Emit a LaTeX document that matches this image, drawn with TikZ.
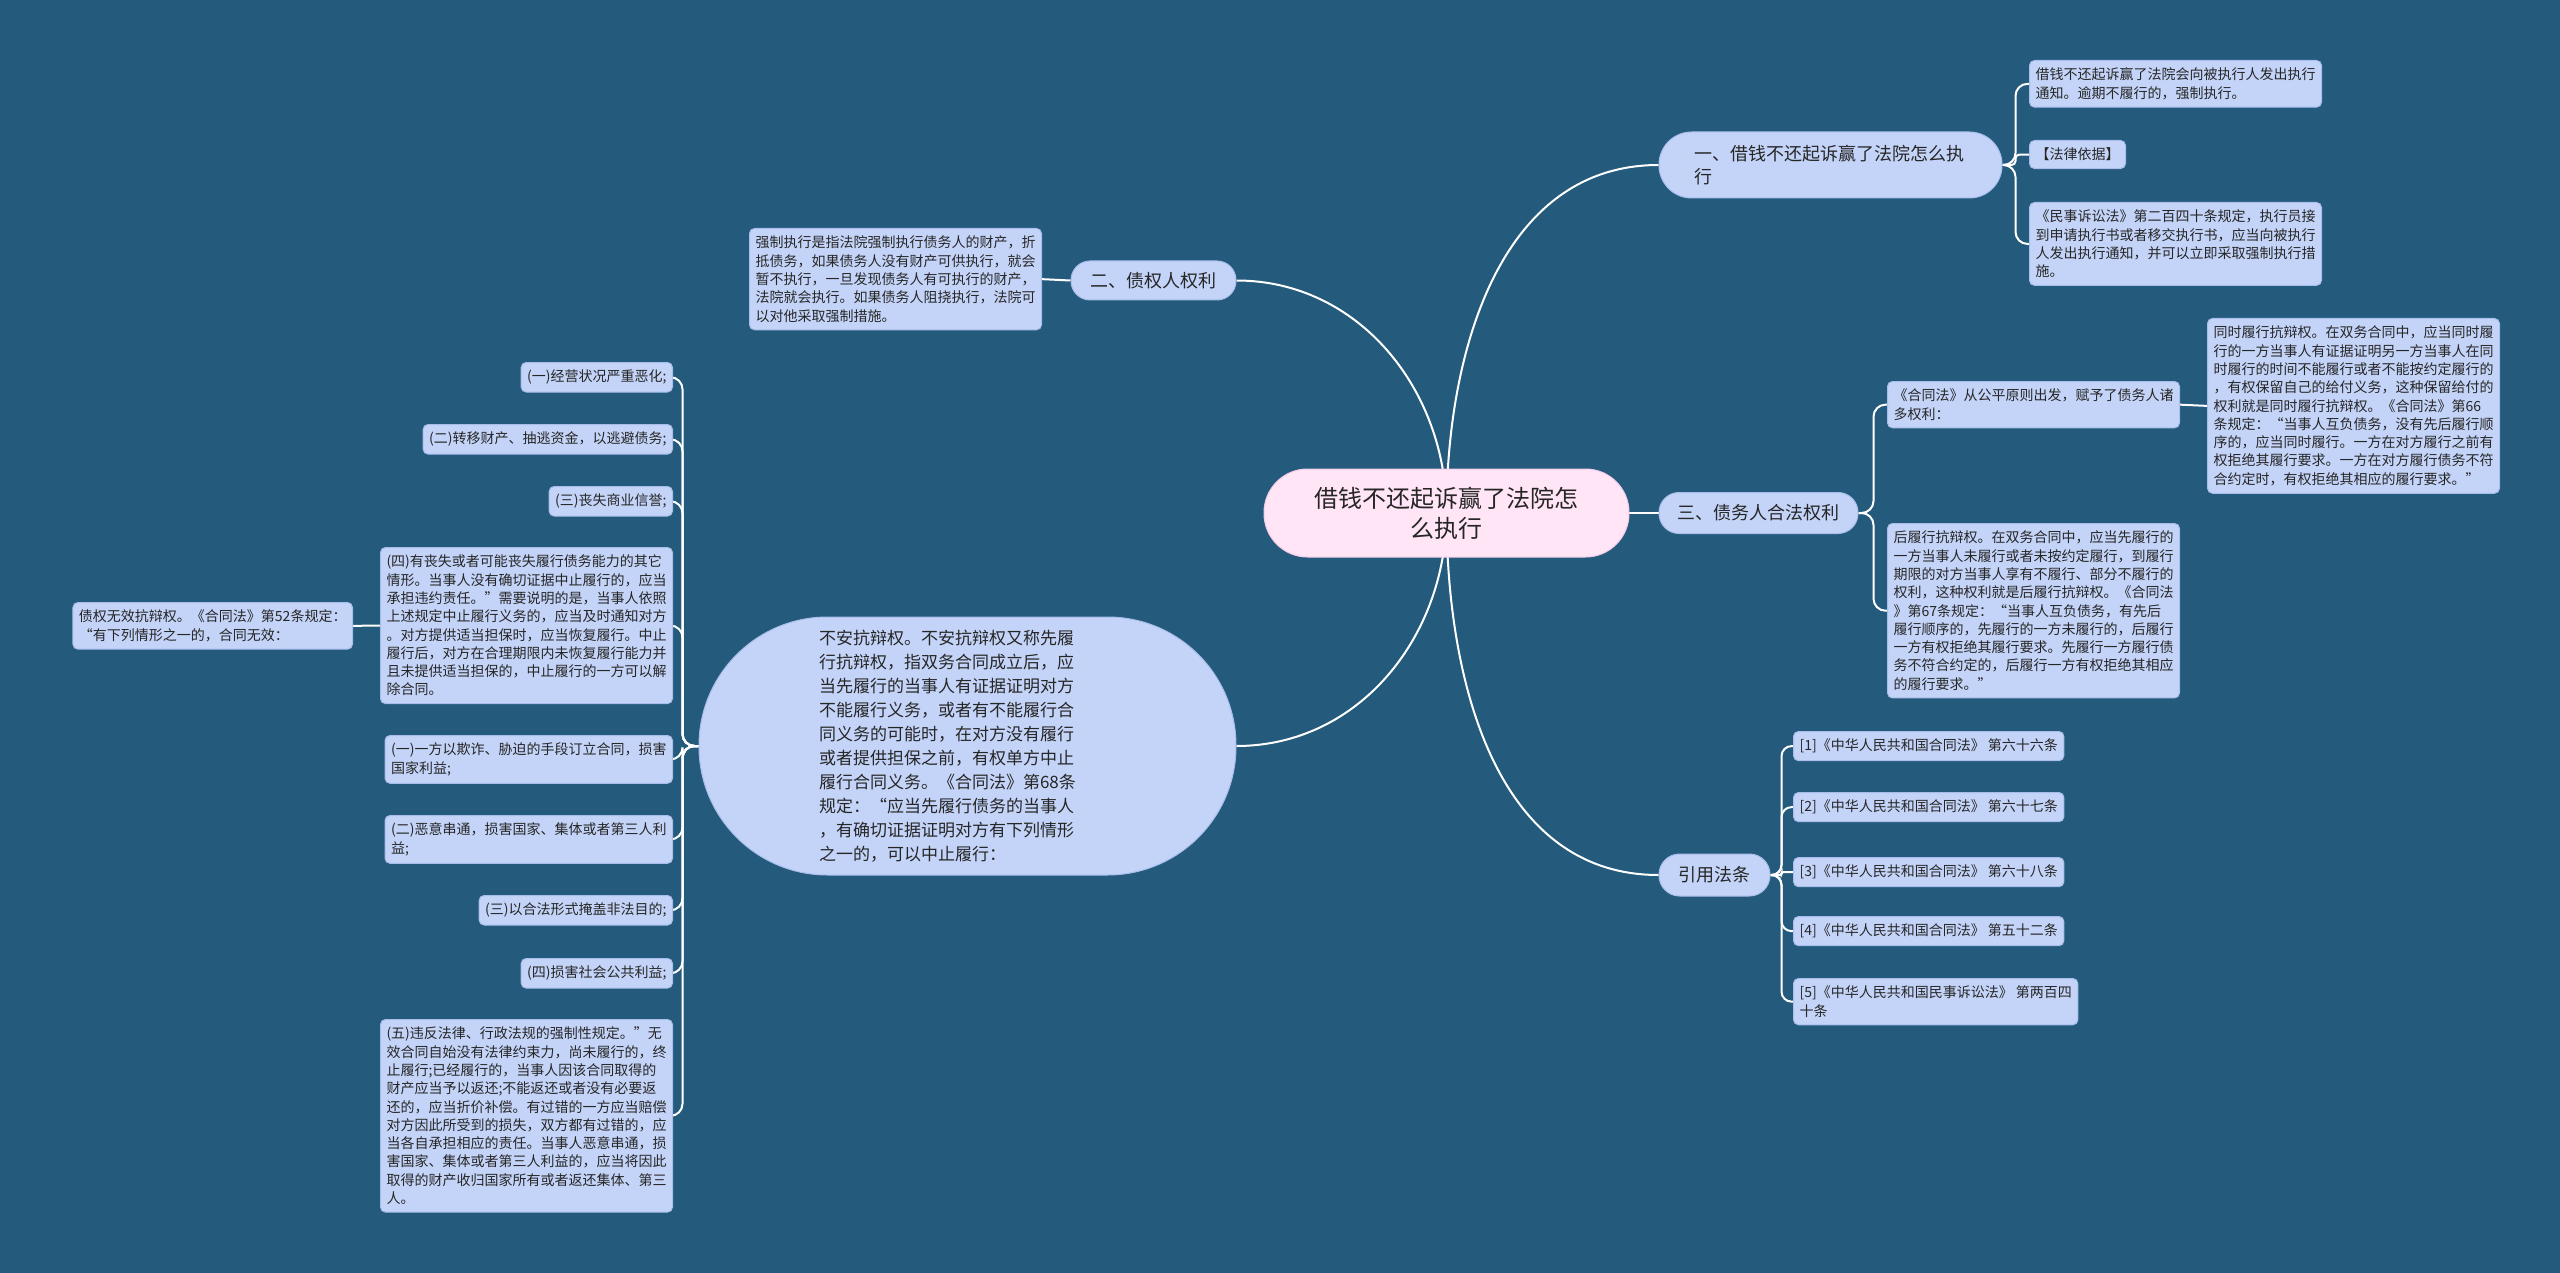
\documentclass[tikz,border=0pt]{standalone}
\usepackage{fontspec}
\setmainfont{Noto Sans CJK SC}
\pgfdeclarelayer{bg}
\pgfsetlayers{bg,main}
\definecolor{bgc}{HTML}{245A7B}
\definecolor{boxc}{HTML}{C4D4F8}
\definecolor{boxd}{HTML}{A8BDEB}
\definecolor{pinkc}{HTML}{FFE5F6}
\definecolor{pinkd}{HTML}{F3CDE6}
\definecolor{txt}{HTML}{262626}
\tikzset{
  leaf/.style={draw=boxd, line width=1pt, fill=boxc, rounded corners=5pt,
    inner xsep=6pt, inner ysep=7.5pt, align=left, text=txt,
    font=\fontsize{14}{18.3}\selectfont},
  topic/.style={draw=boxd, line width=1pt, fill=boxc, text=txt, inner sep=0pt,
    font=\fontsize{18}{23}\selectfont},
  rootnode/.style={draw=pinkd, line width=1pt, fill=pinkc, text=txt, inner sep=0pt,
    align=center, font=\fontsize{24}{30}\selectfont,
    minimum width=365pt, minimum height=88pt, rounded corners=43.5pt},
  conn/.style={draw=white, line width=2pt},
}
\begin{document}
\begin{tikzpicture}[x=1pt,y=-1pt]
\useasboundingbox (0,0) rectangle (2560,1273);

% central topic
\node[rootnode] (c) at (1446.5,513) {借钱不还起诉赢了法院怎\\么执行};

% main topics
\node[topic, minimum width=343pt, minimum height=66pt, rounded corners=32.5pt,
  text width=272pt, align=left] (t1) at (1830.5,165) {一、借钱不还起诉赢了法院怎么执\\行};
\node[topic, minimum width=165pt, minimum height=39pt, rounded corners=19pt] (t2) at (1153.5,280.5) {二、债权人权利};
\node[topic, minimum width=199pt, minimum height=41pt, rounded corners=20pt] (t3) at (1758.5,513) {三、债务人合法权利};
\node[topic, minimum width=111pt, minimum height=42pt, rounded corners=20.5pt] (t4) at (1714.5,875) {引用法条};
\node[topic, minimum width=537pt, minimum height=258pt, rounded corners=128.5pt,
  text width=297pt, align=left, font=\fontsize{17}{24}\selectfont] (ell) at (967.5,746)
  {不安抗辩权。不安抗辩权又称先履\\行抗辩权，指双务合同成立后，应\\当先履行的当事人有证据证明对方\\不能履行义务，或者有不能履行合\\同义务的可能时，在对方没有履行\\或者提供担保之前，有权单方中止\\履行合同义务。《合同法》第68条\\规定：“应当先履行债务的当事人\\，有确切证据证明对方有下列情形\\之一的，可以中止履行：};

% branch 1 leaves
\node[leaf, anchor=north west] (a1) at (2029,60) {借钱不还起诉赢了法院会向被执行人发出执行\\通知。逾期不履行的，强制执行。};
\node[leaf, anchor=north west] (a2) at (2029,140) {【法律依据】};
\node[leaf, anchor=north west] (a3) at (2029,202) {《民事诉讼法》第二百四十条规定，执行员接\\到申请执行书或者移交执行书，应当向被执行\\人发出执行通知，并可以立即采取强制执行措\\施。};

% branch 2 leaf
\node[leaf, anchor=north west] (b1) at (749,228) {强制执行是指法院强制执行债务人的财产，折\\抵债务，如果债务人没有财产可供执行，就会\\暂不执行，一旦发现债务人有可执行的财产，\\法院就会执行。如果债务人阻挠执行，法院可\\以对他采取强制措施。};

% branch 3 leaves
\node[leaf, anchor=north west] (d1) at (1887,381) {《合同法》从公平原则出发，赋予了债务人诸\\多权利：};
\node[leaf, anchor=north west] (e1) at (2207,318) {同时履行抗辩权。在双务合同中，应当同时履\\行的一方当事人有证据证明另一方当事人在同\\时履行的时间不能履行或者不能按约定履行的\\，有权保留自己的给付义务，这种保留给付的\\权利就是同时履行抗辩权。《合同法》第66\\条规定：“当事人互负债务，没有先后履行顺\\序的，应当同时履行。一方在对方履行之前有\\权拒绝其履行要求。一方在对方履行债务不符\\合约定时，有权拒绝其相应的履行要求。”};
\node[leaf, anchor=north west] (f1) at (1887,523) {后履行抗辩权。在双务合同中，应当先履行的\\一方当事人未履行或者未按约定履行，到履行\\期限的对方当事人享有不履行、部分不履行的\\权利，这种权利就是后履行抗辩权。《合同法\\》第67条规定：“当事人互负债务，有先后\\履行顺序的，先履行的一方未履行的，后履行\\一方有权拒绝其履行要求。先履行一方履行债\\务不符合约定的，后履行一方有权拒绝其相应\\的履行要求。”};

% branch 4 leaves
\node[leaf, anchor=north west] (r1) at (1793,731) {[1]《中华人民共和国合同法》 第六十六条};
\node[leaf, anchor=north west] (r2) at (1793,792) {[2]《中华人民共和国合同法》 第六十七条};
\node[leaf, anchor=north west] (r3) at (1793,857) {[3]《中华人民共和国合同法》 第六十八条};
\node[leaf, anchor=north west] (r4) at (1793,916) {[4]《中华人民共和国合同法》 第五十二条};
\node[leaf, anchor=north west] (r5) at (1793,978) {[5]《中华人民共和国民事诉讼法》 第两百四\\十条};

% ellipse leaves (left side)
\node[leaf, anchor=north east] (c1) at (673,362) {(一)经营状况严重恶化;};
\node[leaf, anchor=north east] (c2) at (673,424) {(二)转移财产、抽逃资金，以逃避债务;};
\node[leaf, anchor=north east] (c3) at (673,486) {(三)丧失商业信誉;};
\node[leaf, anchor=north east] (c4) at (673,547) {(四)有丧失或者可能丧失履行债务能力的其它\\情形。当事人没有确切证据中止履行的，应当\\承担违约责任。”需要说明的是，当事人依照\\上述规定中止履行义务的，应当及时通知对方\\。对方提供适当担保时，应当恢复履行。中止\\履行后，对方在合理期限内未恢复履行能力并\\且未提供适当担保的，中止履行的一方可以解\\除合同。};
\node[leaf, anchor=north east] (c5) at (673,735) {(一)一方以欺诈、胁迫的手段订立合同，损害\\国家利益;};
\node[leaf, anchor=north east] (c6) at (673,815) {(二)恶意串通，损害国家、集体或者第三人利\\益;};
\node[leaf, anchor=north east] (c7) at (673,895) {(三)以合法形式掩盖非法目的;};
\node[leaf, anchor=north east] (c8) at (673,958) {(四)损害社会公共利益;};
\node[leaf, anchor=north east] (c9) at (673,1019) {(五)违反法律、行政法规的强制性规定。”无\\效合同自始没有法律约束力，尚未履行的，终\\止履行;已经履行的，当事人因该合同取得的\\财产应当予以返还;不能返还或者没有必要返\\还的，应当折价补偿。有过错的一方应当赔偿\\对方因此所受到的损失，双方都有过错的，应\\当各自承担相应的责任。当事人恶意串通，损\\害国家、集体或者第三人利益的，应当将因此\\取得的财产收归国家所有或者返还集体、第三\\人。};
\node[leaf, anchor=north east] (g1) at (353,602) {债权无效抗辩权。《合同法》第52条规定：\\“有下列情形之一的，合同无效：};

\begin{pgfonlayer}{bg}
\fill[bgc] (0,0) rectangle (2560,1273);
% from the central topic
\draw[conn] (c.center) to[out=90,in=180] (t1.west);
\draw[conn] (c.center) to[out=90,in=0] (t2.east);
\draw[conn] (c.center) -- (t3.west);
\draw[conn] (c.center) to[out=-90,in=180] (t4.west);
\draw[conn] (c.center) to[out=-90,in=0] (ell.east);
% branch 1
\draw[conn, rounded corners=12pt] (t1.east) -- ++(13,0) |- (a1.west);
\draw[conn, rounded corners=4pt] (t1.east) -- ++(13,0) |- (a2.west);
\draw[conn, rounded corners=12pt] (t1.east) -- ++(13,0) |- (a3.west);
% branch 2
\draw[conn] (t2.west) -- (b1.east);
% branch 3
\draw[conn, rounded corners=12pt] (t3.east) -- ++(15,0) |- (d1.west);
\draw[conn, rounded corners=12pt] (t3.east) -- ++(15,0) |- (f1.west);
\draw[conn] (d1.east) -- (e1.west);
% branch 4
\draw[conn, rounded corners=10pt] (t4.east) -- ++(11,0) |- (r1.west);
\draw[conn, rounded corners=10pt] (t4.east) -- ++(11,0) |- (r2.west);
\draw[conn, rounded corners=2pt] (t4.east) -- ++(11,0) |- (r3.west);
\draw[conn, rounded corners=10pt] (t4.east) -- ++(11,0) |- (r4.west);
\draw[conn, rounded corners=10pt] (t4.east) -- ++(11,0) |- (r5.west);
% ellipse children
\foreach \k in {c1,c2,c3,c4,c5,c6,c7,c8,c9}
  \draw[conn, rounded corners=12pt] (ell.west) -- ++(-16,0) |- (\k.east);
\draw[conn] (c4.west) -- (g1.east);
\end{pgfonlayer}
\end{tikzpicture}
\end{document}
